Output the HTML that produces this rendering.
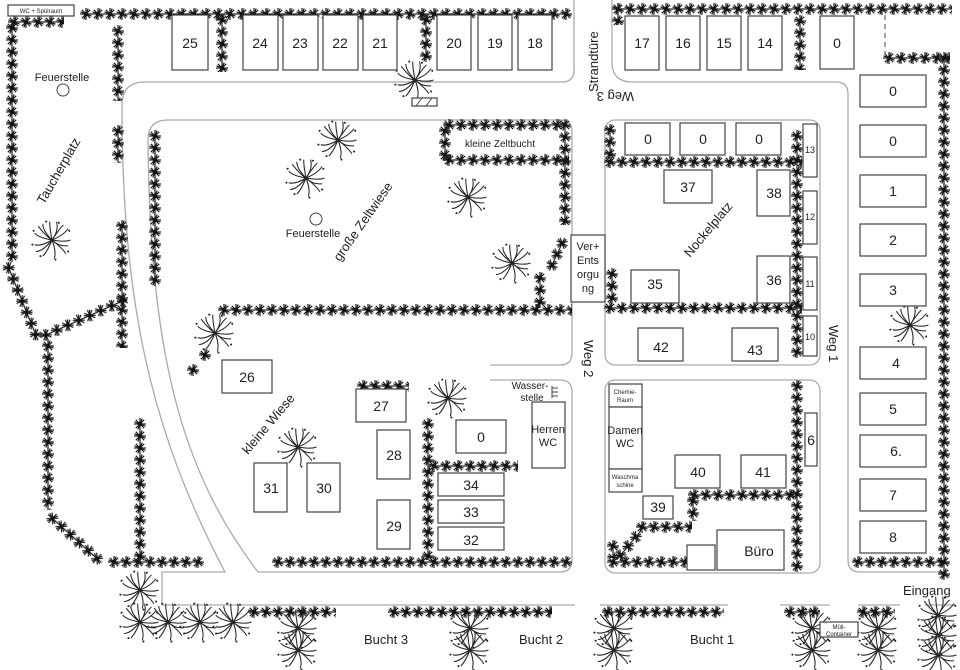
<!DOCTYPE html>
<html><head><meta charset="utf-8"><style>
html,body{margin:0;padding:0;background:#fff}
svg{display:block}
text{font-family:"Liberation Sans",sans-serif;fill:#222}
.b{fill:#fff;stroke:#444;stroke-width:1.2}
.r{fill:none;stroke:#aaa;stroke-width:1.3}
</style></head><body>
<svg width="960" height="670" viewBox="0 0 960 670" xmlns="http://www.w3.org/2000/svg">
<defs>
<g id="sh" stroke="#1a1a1a" stroke-width="1.2">
<line x1="-6" y1="0" x2="6" y2="0"/><line x1="0" y1="-6" x2="0" y2="6"/>
<line x1="-4.2" y1="-4.2" x2="4.2" y2="4.2"/><line x1="-4.2" y1="4.2" x2="4.2" y2="-4.2"/>
<line x1="-5.5" y1="-2.2" x2="5.5" y2="2.2"/><line x1="-2.2" y1="5.5" x2="2.2" y2="-5.5"/>
<circle r="2" fill="#111" stroke="none"/>
</g>
<pattern id="hp" patternUnits="userSpaceOnUse" width="12" height="12"><use href="#sh" x="6" y="6"/></pattern>
<g id="tr0" stroke="#222" stroke-width="0.9" fill="none">
<path d="M0 0 Q6 -8 4 -16"/><path d="M0 0 Q10 -4 14 -10"/><path d="M0 0 Q12 2 16 0"/><path d="M0 0 Q10 8 12 12"/>
<path d="M0 0 Q4 10 2 16"/><path d="M0 0 Q-4 10 -8 14"/><path d="M0 0 Q-10 6 -15 4"/><path d="M0 0 Q-12 -2 -15 -6"/>
<path d="M0 0 Q-8 -8 -8 -14"/><path d="M0 0 Q-2 -10 -2 -16"/><path d="M0 0 Q8 -12 10 -13"/><path d="M0 0 Q-8 10 -14 10"/>
<path d="M0 0 Q6 6 14 5"/><path d="M0 0 Q-6 -4 -12 -12"/>
<g fill="#222" stroke="none"><circle cx="6" cy="-15" r="0.9"/><circle cx="15" cy="-8" r="0.9"/><circle cx="14" cy="10" r="0.9"/><circle cx="3" cy="17" r="0.9"/><circle cx="-10" cy="14" r="0.9"/><circle cx="-17" cy="4" r="0.9"/><circle cx="-16" cy="-8" r="0.9"/><circle cx="-5" cy="-16" r="0.9"/></g>
</g>
<g id="tr"><use href="#tr0" transform="scale(1.15)"/></g>
</defs>

<g class="r">
<path d="M122,105 Q122,82 145,82 L562,82 Q574,82 574,70 L574,0"/>
<path d="M122,105 C122,300 150,430 225,572 L162,572 L162,605 L575,605"/>
<path d="M600,605 L728,605 M780,605 L830,605 M858,605 L900,605 M925,605 L955,605"/>
<path d="M148,140 Q148,120 168,120 L560,120 Q572,120 572,132 L572,353 Q572,365 560,365 L490,365"/>
<path d="M148,140 C150,350 180,470 258,572 L560,572 Q572,572 572,560 L572,392 Q572,380 560,380 L490,380"/>
<rect x="605" y="120" width="215" height="245" rx="10"/>
<rect x="605" y="380" width="215" height="193" rx="10"/>
<path d="M612,0 L612,62 Q612,82 632,82 L836,82 Q848,82 848,94 L848,560 Q848,572 860,572 L945,572"/>
</g>
<line x1="885" y1="15" x2="885" y2="55" stroke="#444" stroke-dasharray="5,4"/>

<g fill="url(#hp)">
<rect transform="translate(8,16)" width="56" height="12"/>
<rect transform="translate(80,8)" width="492" height="12"/>
<rect transform="translate(612,3)" width="340" height="12"/>
<rect transform="translate(612,3)" width="12" height="22"/>
<rect transform="translate(883,52)" width="67" height="12"/>
<rect transform="translate(938,52)" width="12" height="528"/>
<rect transform="translate(794,15)" width="12" height="55"/>
<rect transform="translate(216,14)" width="12" height="58"/>
<rect transform="translate(420,14)" width="12" height="48"/>
<rect transform="translate(6,22)" width="12" height="240"/>
<rect transform="translate(12,260) rotate(68)" width="84" height="12"/>
<rect transform="translate(42,340)" width="12" height="170"/>
<rect transform="translate(52,510) rotate(42)" width="72" height="12"/>
<rect transform="translate(108,556)" width="96" height="12"/>
<rect transform="translate(134,418)" width="12" height="144"/>
<rect transform="translate(112,25)" width="12" height="76"/>
<rect transform="translate(112,125)" width="12" height="38"/>
<rect transform="translate(116,220)" width="12" height="128"/>
<rect transform="translate(38,332) rotate(-24)" width="94" height="12"/>
<rect transform="translate(149,130)" width="12" height="156"/>
<rect transform="translate(218,304)" width="354" height="12"/>
<rect transform="translate(534,272)" width="12" height="36"/>
<rect transform="translate(544,268) rotate(-65)" width="36" height="12"/>
<rect transform="translate(443,119)" width="122" height="12"/>
<rect transform="translate(439,125)" width="12" height="36"/>
<rect transform="translate(443,154)" width="126" height="12"/>
<rect transform="translate(559,119)" width="12" height="106"/>
<rect transform="translate(272,556)" width="300" height="12"/>
<rect transform="translate(422,418)" width="12" height="142"/>
<rect transform="translate(428,460)" width="90" height="12"/>
<rect transform="translate(357,380)" width="52" height="12"/>
<rect transform="translate(248,606)" width="88" height="12"/>
<rect transform="translate(388,606)" width="164" height="12"/>
<rect transform="translate(602,606)" width="122" height="12"/>
<rect transform="translate(784,606)" width="36" height="12"/>
<rect transform="translate(857,606)" width="38" height="12"/>
<rect transform="translate(604,124)" width="12" height="38"/>
<rect transform="translate(604,156)" width="198" height="12"/>
<rect transform="translate(791,130)" width="12" height="228"/>
<rect transform="translate(604,302)" width="198" height="12"/>
<rect transform="translate(606,268)" width="12" height="36"/>
<rect transform="translate(791,380)" width="12" height="192"/>
<rect transform="translate(688,489)" width="106" height="12"/>
<rect transform="translate(687,495)" width="12" height="26"/>
<rect transform="translate(636,521)" width="56" height="12"/>
<rect transform="translate(612,556) rotate(-50)" width="36" height="12"/>
<rect transform="translate(607,540)" width="12" height="18"/>
<rect transform="translate(607,556)" width="80" height="12"/>
<rect transform="translate(852,556)" width="90" height="12"/>
</g>

<g>
<use href="#tr" x="415" y="80"/><use href="#tr" x="338" y="140"/><use href="#tr" x="306" y="178"/>
<use href="#tr" x="468" y="197"/><use href="#tr" x="512" y="263"/><use href="#tr" x="52" y="240"/>
<use href="#tr" x="215" y="333"/><use href="#tr" x="298" y="447"/><use href="#tr" x="448" y="398"/>
<use href="#tr" x="910" y="325"/>
<use href="#tr" x="140" y="590"/><use href="#tr" x="140" y="622"/><use href="#tr" x="168" y="622"/>
<use href="#tr" x="200" y="622"/><use href="#tr" x="233" y="622"/>
<use href="#tr" x="298" y="628"/><use href="#tr" x="298" y="650"/>
<use href="#tr" x="470" y="628"/><use href="#tr" x="470" y="650"/>
<use href="#tr" x="614" y="628"/><use href="#tr" x="614" y="650"/>
<use href="#tr" x="812" y="628"/><use href="#tr" x="812" y="650"/>
<use href="#tr" x="878" y="628"/><use href="#tr" x="878" y="650"/>
<use href="#tr" x="938" y="615"/><use href="#tr" x="938" y="635"/><use href="#tr" x="938" y="655"/>
</g>
<g><use href="#sh" x="205" y="355"/><use href="#sh" x="193" y="370"/></g>

<g class="b">
<rect x="172" y="15" width="36" height="55"/><rect x="243" y="15" width="35" height="55"/>
<rect x="283" y="15" width="35" height="55"/><rect x="323" y="15" width="35" height="55"/>
<rect x="363" y="15" width="34" height="55"/><rect x="437" y="15" width="34" height="55"/>
<rect x="478" y="15" width="34" height="55"/><rect x="518" y="15" width="34" height="55"/>
<rect x="625" y="16" width="34" height="54"/><rect x="666" y="16" width="34" height="54"/>
<rect x="707" y="16" width="34" height="54"/><rect x="748" y="16" width="34" height="54"/>
<rect x="820" y="16" width="34" height="53"/>
<rect x="860" y="75" width="66" height="32"/><rect x="860" y="125" width="66" height="32"/>
<rect x="860" y="175" width="66" height="32"/><rect x="860" y="224" width="66" height="32"/>
<rect x="860" y="274" width="66" height="32"/><rect x="860" y="347" width="66" height="32"/>
<rect x="860" y="393" width="66" height="32"/><rect x="860" y="435" width="66" height="32"/>
<rect x="860" y="479" width="66" height="32"/><rect x="860" y="521" width="66" height="32"/>
<rect x="625" y="123" width="45" height="32"/><rect x="680" y="123" width="45" height="32"/>
<rect x="736" y="123" width="45" height="32"/>
<rect x="664" y="170" width="48" height="33"/><rect x="757" y="170" width="33" height="46"/>
<rect x="757" y="256" width="33" height="47"/><rect x="631" y="270" width="48" height="33"/>
<rect x="638" y="328" width="45" height="33"/><rect x="732" y="328" width="46" height="33"/>
<rect x="803" y="124" width="14" height="53"/><rect x="803" y="191" width="14" height="53"/>
<rect x="803" y="257" width="14" height="53"/><rect x="803" y="316" width="14" height="40"/>
<rect x="571" y="235" width="34" height="67"/>
<rect x="609" y="384" width="33" height="23"/><rect x="609" y="407" width="33" height="62"/>
<rect x="609" y="469" width="33" height="23"/>
<rect x="675" y="455" width="45" height="33"/><rect x="741" y="455" width="45" height="33"/>
<rect x="805" y="413" width="12" height="53"/><rect x="643" y="496" width="30" height="23"/>
<rect x="687" y="545" width="28" height="25"/><rect x="717" y="530" width="67" height="40"/>
<rect x="532" y="402" width="33" height="66"/><rect x="456" y="420" width="50" height="33"/>
<rect x="438" y="473" width="66" height="23"/><rect x="438" y="500" width="66" height="23"/>
<rect x="438" y="527" width="66" height="23"/>
<rect x="377" y="430" width="33" height="49"/><rect x="377" y="500" width="33" height="49"/>
<rect x="356" y="389" width="50" height="33"/><rect x="222" y="360" width="50" height="33"/>
<rect x="254" y="463" width="33" height="49"/><rect x="307" y="463" width="33" height="49"/>
<rect x="8" y="5" width="66" height="11"/><rect x="820" y="622" width="38" height="15"/>
<rect x="412" y="98" width="25" height="8"/>
</g>
<path d="M416,106 L422,98 M426,106 L432,98" stroke="#444"/>
<circle cx="63" cy="90" r="6" fill="none" stroke="#444"/>
<circle cx="316" cy="219" r="6" fill="none" stroke="#444"/>
<path d="M552,386 L552,398 M552,388 L558,388 M552,392 L558,392 M552,396 L558,396" stroke="#444"/>

<g font-size="14" text-anchor="middle">
<text x="190" y="48">25</text><text x="260" y="48">24</text><text x="300" y="48">23</text>
<text x="340" y="48">22</text><text x="380" y="48">21</text><text x="454" y="48">20</text>
<text x="495" y="48">19</text><text x="535" y="48">18</text>
<text x="642" y="48">17</text><text x="683" y="48">16</text><text x="724" y="48">15</text>
<text x="765" y="48">14</text><text x="837" y="48">0</text>
<text x="893" y="96">0</text><text x="893" y="146">0</text><text x="893" y="196">1</text>
<text x="893" y="245">2</text><text x="893" y="295">3</text><text x="896" y="368">4</text>
<text x="893" y="414">5</text><text x="896" y="456">6.</text><text x="893" y="500">7</text>
<text x="893" y="542">8</text>
<text x="648" y="144">0</text><text x="703" y="144">0</text><text x="759" y="144">0</text>
<text x="688" y="192">37</text><text x="774" y="198">38</text><text x="774" y="285">36</text>
<text x="655" y="289">35</text><text x="661" y="352">42</text><text x="755" y="355">43</text>
<text x="698" y="477">40</text><text x="763" y="477">41</text><text x="658" y="512">39</text>
<text x="759" y="556">Büro</text>
<text x="481" y="442">0</text><text x="471" y="490">34</text><text x="471" y="517">33</text>
<text x="471" y="545">32</text><text x="394" y="460">28</text><text x="394" y="531">29</text>
<text x="381" y="411">27</text><text x="247" y="382">26</text><text x="271" y="493">31</text>
<text x="324" y="493">30</text>
<text x="811" y="445">6</text>
</g>
<g font-size="9" text-anchor="middle">
<text x="810" y="153">13</text><text x="810" y="220">12</text><text x="810" y="287">11</text><text x="810" y="340">10</text>
</g>
<g font-size="11" text-anchor="middle">
<text x="588" y="250">Ver+</text><text x="588" y="264">Ents</text><text x="588" y="278">orgu</text><text x="588" y="292">ng</text>
<text x="548" y="433">Herren</text><text x="548" y="446">WC</text>
<text x="625" y="434">Damen</text><text x="625" y="447">WC</text>
<text x="62" y="81">Feuerstelle</text><text x="313" y="237">Feuerstelle</text>
<text x="500" y="147" font-size="10">kleine Zeltbucht</text>
<text x="530" y="389" font-size="10">Wasser-</text><text x="532" y="401" font-size="10">stelle</text>
</g>
<g font-size="6" text-anchor="middle">
<text x="625" y="394">Chemie-</text><text x="625" y="402">Raum</text>
<text x="625" y="479">Waschma</text><text x="625" y="487">schine</text>
<text x="41" y="13">WC + Spülraum</text>
<text x="839" y="629">Müll-</text><text x="839" y="636">Container</text>
</g>
<g font-size="13">
<text transform="translate(44,205) rotate(-60)">Taucherplatz</text>
<text transform="translate(340,262) rotate(-55)">große Zeltwiese</text>
<text transform="translate(690,258) rotate(-50)">Nockelplatz</text>
<text transform="translate(248,455) rotate(-50)">kleine Wiese</text>
<text transform="translate(598,92) rotate(-90)">Strandtüre</text>
<text transform="translate(634,92) rotate(180)">Weg 3</text>
<text transform="translate(584,340) rotate(90)">Weg 2</text>
<text transform="translate(829,325) rotate(90)">Weg 1</text>
<text x="364" y="644">Bucht 3</text><text x="519" y="644">Bucht 2</text>
<text x="690" y="644">Bucht 1</text><text x="903" y="595">Eingang</text>
</g>
</svg>
</body></html>
